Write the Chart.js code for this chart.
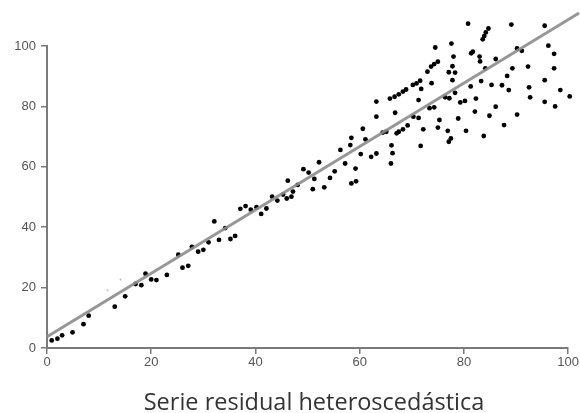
<!DOCTYPE html>
<html>
<head>
<meta charset="utf-8">
<script src="https://cdn.jsdelivr.net/npm/chart.js@4.4.0/dist/chart.umd.min.js"></script>
<style>
  html, body { margin: 0; padding: 0; background: #ffffff; }
  #wrap { width: 580px; height: 413px; position: relative; }
</style>
</head>
<body>
<div id="wrap"><canvas id="c" width="580" height="413"></canvas></div>
<script>
// ---- data ----
const chartTitle = "Serie residual heteroscedástica";
const xTicks = [0, 20, 40, 60, 80, 100];
const yTicks = [0, 20, 40, 60, 80, 100];

const xValues = [
  0.9, 2.0, 2.9, 4.9, 7.0, 8.0, 13.0, 15.0, 17.0, 18.1, 18.9, 20.0, 21.0, 23.0, 25.2, 26.0, 27.1, 27.8,
  29.0, 30.0, 31.0, 32.1, 33.0, 34.2, 35.2, 36.1, 37.1, 38.1, 39.1, 40.2, 41.1, 42.1, 43.2, 44.2, 45.3,
  46.0, 46.2, 46.9, 47.2, 48.1, 49.2, 50.2, 51.0, 51.3, 52.2, 53.2, 54.3, 55.2, 56.3, 57.2, 58.2, 58.4,
  58.4, 59.3, 59.2, 60.2, 60.6, 61.1, 62.2, 63.2, 63.2, 63.2, 64.4, 65.1, 65.8, 66.0, 66.1, 66.3, 66.7,
  66.8, 67.1, 67.5, 67.5, 68.3, 68.3, 68.9, 69.2, 70.2, 70.3, 70.9, 71.3, 71.3, 71.6, 71.7, 71.8, 72.2,
  73.0, 73.4, 73.7, 73.8, 74.3, 74.3, 74.5, 75.0, 75.0, 75.3, 76.4, 76.9, 77.1, 77.1, 77.2, 77.5, 77.6,
  77.8, 77.8, 78.0, 78.3, 78.3, 78.9, 79.3, 80.2, 80.4, 80.8, 81.3, 81.4, 81.7, 82.1, 82.3, 83.0, 83.1,
  83.3, 83.6, 83.8, 83.9, 84.1, 84.2, 84.7, 84.9, 85.3, 86.1, 86.1, 87.3, 87.7, 88.3, 88.6, 89.1, 89.3,
  90.2, 90.2, 91.1, 92.3, 92.5, 92.7, 95.5, 95.5, 95.5, 96.2, 97.3, 97.3, 97.5, 98.5, 100.3
];
const yValues = [
  2.5, 3.1, 4.2, 5.2, 7.9, 10.7, 13.7, 17.1, 21.2, 20.8, 24.6, 22.7, 22.5, 24.2, 30.9, 26.6, 27.2, 33.5,
  31.9, 32.5, 35.0, 41.9, 35.8, 39.7, 36.1, 37.1, 46.1, 47.0, 45.8, 46.6, 44.4, 46.2, 50.1, 48.8, 50.8,
  49.5, 55.4, 50.1, 51.8, 54.0, 59.2, 58.1, 52.6, 56.0, 61.5, 53.2, 56.3, 58.5, 65.6, 61.1, 67.2, 69.6,
  54.5, 55.2, 59.4, 64.2, 72.6, 69.1, 63.3, 64.4, 76.6, 81.6, 71.3, 71.6, 82.6, 61.1, 67.1, 64.5, 83.2,
  77.9, 71.1, 71.6, 84.0, 84.9, 72.4, 85.6, 73.7, 87.1, 76.6, 87.6, 82.1, 76.2, 88.5, 66.9, 85.8, 72.4,
  91.5, 79.4, 93.2, 87.7, 94.0, 79.7, 99.5, 94.8, 73.0, 75.5, 83.0, 71.9, 68.3, 91.3, 82.7, 69.4, 100.8,
  93.3, 88.7, 96.5, 91.2, 84.5, 76.0, 81.3, 81.8, 71.9, 107.4, 86.6, 97.6, 98.1, 78.3, 82.6, 96.5, 94.9,
  88.4, 102.2, 70.2, 103.3, 92.6, 104.5, 105.8, 76.9, 87.1, 95.7, 79.9, 87.0, 73.8, 90.1, 85.4, 107.1, 92.6,
  99.2, 77.3, 98.4, 93.2, 86.3, 83.0, 106.7, 88.7, 81.5, 100.1, 97.4, 92.6, 80.0, 85.4, 83.3
];
// two faint, tiny points near the start
const faintX = [11.6, 14.1];
const faintY = [19.1, 22.7];
// fitted trend line (end points)
const fitX = [0, 102.1];
const fitY = [3.7, 110.9];

// ---- build chart ----
const points = xValues.map((x, i) => ({ x: x, y: yValues[i] }));
const faint = faintX.map((x, i) => ({ x: x, y: faintY[i] }));
const fit = fitX.map((x, i) => ({ x: x, y: fitY[i] }));

// let marks above the 100 line / right of the axis end be drawn (the reference shows them)
const openAreaPlugin = {
  id: 'openArea',
  beforeDatasetsDraw(chart) {
    chart._savedArea = Object.assign({}, chart.chartArea);
    chart.chartArea.top = 0;
    chart.chartArea.right = chart.width;
  },
  afterDatasetsDraw(chart) {
    Object.assign(chart.chartArea, chart._savedArea);
  }
};

const titlePlugin = {
  id: 'bottomTitle',
  afterDraw(chart) {
    const ctx = chart.ctx;
    ctx.save();
    ctx.font = '23.5px "Open Sans", sans-serif';
    ctx.fillStyle = '#333333';
    ctx.textAlign = 'center';
    ctx.textBaseline = 'alphabetic';
    ctx.fillText(chartTitle, 314, 410);
    ctx.restore();
  }
};

const tickFont = { family: 'Liberation Sans, Arial, sans-serif', size: 13, weight: 'normal' };
const axisColor = '#7a7a7a';

new Chart(document.getElementById('c'), {
  type: 'scatter',
  data: {
    datasets: [
      {
        label: 'fit', type: 'line', data: fit, borderColor: 'rgba(140,140,140,0.9)', borderWidth: 3,
        pointRadius: 0, fill: false, clip: false, order: 0
      },
      {
        label: 'serie', data: points, backgroundColor: '#000000', borderWidth: 0,
        pointRadius: 2.4, pointStyle: 'circle', clip: false, order: 1
      },
      {
        label: 'faint', data: faint, backgroundColor: '#bbbbbb', borderWidth: 0,
        pointRadius: 1, clip: false, order: 2
      }
    ]
  },
  options: {
    responsive: false,
    animation: false,
    events: [],
    layout: { padding: { left: 0, right: 11, top: 46, bottom: 35 } },
    plugins: { legend: { display: false }, tooltip: { enabled: false }, title: { display: false } },
    scales: {
      x: {
        type: 'linear', min: 0, max: 100,
        afterBuildTicks(scale) { scale.ticks = xTicks.map(v => ({ value: v })); },
        afterFit(scale) { scale.height = 30; },
        ticks: { color: '#555555', font: tickFont, padding: 1, maxRotation: 0 },
        grid: { display: true, drawOnChartArea: false, drawTicks: true, tickLength: 6, color: axisColor, lineWidth: 1.5 },
        border: { display: true, color: axisColor, width: 2 }
      },
      y: {
        type: 'linear', min: 0, max: 100,
        afterBuildTicks(scale) { scale.ticks = yTicks.map(v => ({ value: v })); },
        afterFit(scale) { scale.width = 47; },
        ticks: { color: '#555555', font: tickFont, padding: 5 },
        grid: { display: true, drawOnChartArea: false, drawTicks: true, tickLength: 6, color: axisColor, lineWidth: 1.5 },
        border: { display: true, color: axisColor, width: 2 }
      }
    }
  },
  plugins: [openAreaPlugin, titlePlugin]
});
</script>
</body>
</html>
